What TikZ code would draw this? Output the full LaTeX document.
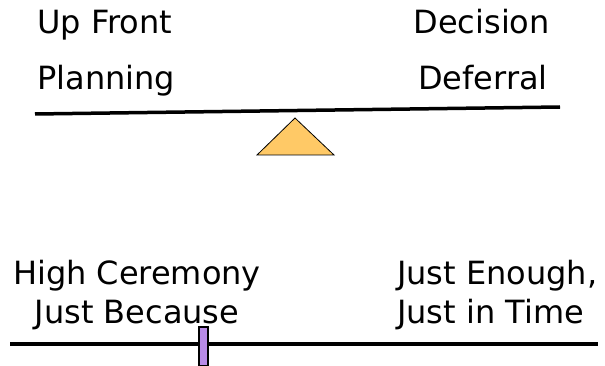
\documentclass[tikz,border=0pt]{standalone}
\usepackage{fontspec}
\setmainfont{DejaVu Sans}
\definecolor{fulcrum}{HTML}{FFC966}
\definecolor{marker}{HTML}{B98BE8}
\tikzset{
  lbl/.style={inner sep=0pt, font=\fontsize{32}{38}\selectfont},
  beam/.style={line width=3.5pt, black}
}
\begin{document}
\begin{tikzpicture}[x=1pt,y=-1pt]
\useasboundingbox (0,0) rectangle (605,366);
% seesaw
\node[lbl, anchor=base west] (upfront) at (37,34) {Up Front};
\node[lbl, anchor=base west] (planning) at (37,90) {Planning};
\node[lbl, anchor=base east] (decision) at (550,34) {Decision};
\node[lbl, anchor=base east] (deferral) at (548,90) {Deferral};
\draw[beam] (35,114) -- (560,107);
\draw[fill=fulcrum, line width=0.8pt] (295,118) -- (334,155) -- (257,155) -- cycle;
% scale with slider
\node[lbl, anchor=base, align=center] (ceremony) at (137,323) {High Ceremony\\[1pt]Just Because};
\node[lbl, anchor=base west, align=left] (enough) at (397,323) {Just Enough,\\[1pt]Just in Time};
\draw[beam] (10,344) -- (598,344);
\draw[fill=marker, line width=1.5pt] (199,327) rectangle (208,366);
\end{tikzpicture}
\end{document}
